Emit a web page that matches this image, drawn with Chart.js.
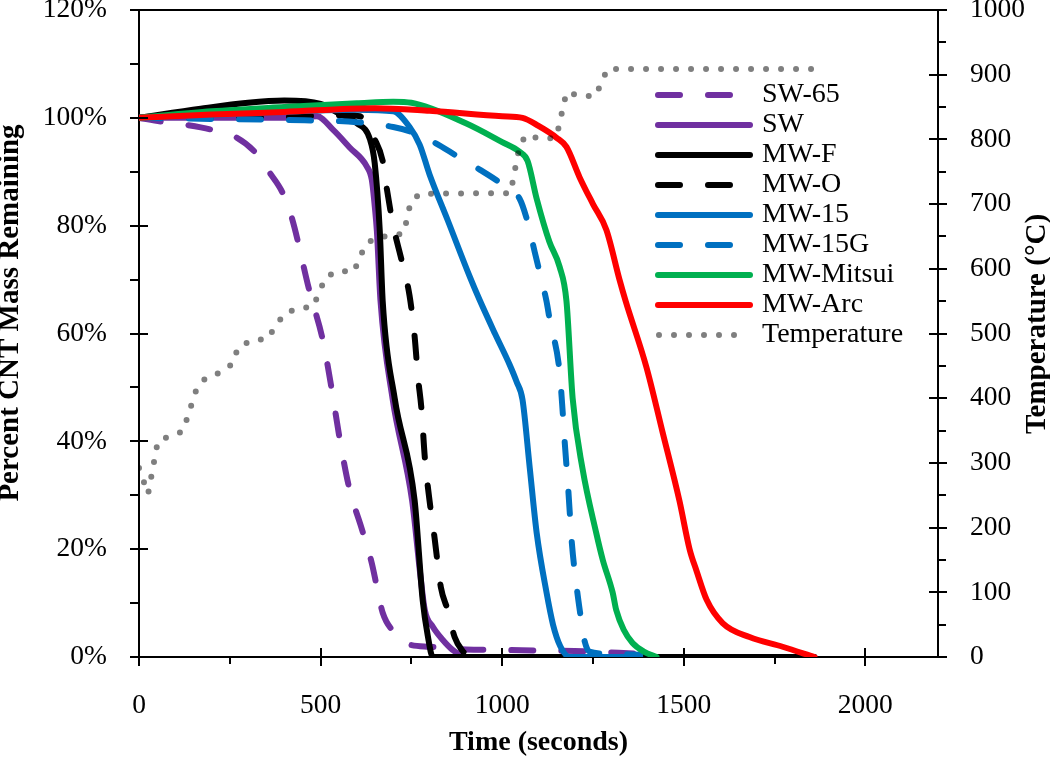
<!DOCTYPE html>
<html><head><meta charset="utf-8">
<script src="https://cdn.jsdelivr.net/npm/chart.js@4.4.1/dist/chart.umd.min.js"></script>
<style>html,body{margin:0;padding:0;background:#fff}#wrap{width:1050px;height:758px;position:relative}</style>
</head><body><div id="wrap"><canvas id="c"></canvas></div>
<script>
// ---- data (time in seconds, mass in %, temperature in °C) ----
const sw65Time = [0, 60, 130, 200, 270, 320, 360, 396, 421, 470, 506, 531, 553, 580, 610, 641, 655, 671, 704, 740, 800, 900, 1000, 1100, 1200, 1380];
const sw65Mass = [100, 99.3, 98.7, 97.8, 96.3, 93.6, 89.8, 86, 81.4, 67.7, 58.8, 49.5, 40.3, 31, 24.5, 17.4, 13, 8.2, 4.5, 2.4, 1.9, 1.4, 1.3, 1.2, 1.1, 0.6];

const swTime = [0, 200, 400, 490, 534, 580, 627, 641, 650, 655, 665, 698, 752, 775, 787, 809, 836, 864, 902, 1000, 1180];
const swMass = [100, 100, 100, 100.3, 97.8, 94.5, 91, 88.5, 83, 79, 66, 48, 29, 15, 8.7, 5.6, 3.2, 1.3, 0, 0, 0];

const mwfTime = [0, 170, 300, 400, 500, 545, 600, 636, 649, 663, 671, 704, 759, 781, 795, 809, 1000, 1200, 1400, 1600, 1860];
const mwfMass = [100, 101.7, 102.8, 103.2, 102.6, 101, 99, 96, 91.6, 79, 66, 48, 29, 10.6, 4, 0, 0, 0, 0, 0, 0];

const mwoTime = [0, 300, 572, 608, 649, 671, 682, 700, 723, 745, 759, 768, 778, 787, 800, 814, 831, 850, 869, 890, 912];
const mwoMass = [100, 100, 100.5, 100.3, 96, 92, 87, 80, 73.6, 67, 59.4, 52, 45.8, 37, 29, 22, 13, 8.7, 3.7, 1.2, 0];

const mw15Time = [0, 300, 600, 700, 745, 773, 800, 850, 911, 938, 980, 1020, 1040, 1056, 1076, 1095, 1122, 1140, 1160, 1186, 1380];
const mw15Mass = [100, 100.8, 101.5, 101.2, 98.3, 95, 89.5, 81, 70.5, 66.2, 60, 54.3, 51, 47.7, 35, 23, 12, 6, 2, 0, 0];

const mw15gTime = [0, 200, 400, 600, 700, 750, 814, 878, 938, 993, 1048, 1070, 1090, 1103, 1122, 1131, 1158, 1165, 1172, 1182, 1192, 1205, 1215, 1225, 1240, 1300, 1380];
const mw15gMass = [100, 99.8, 99.6, 99.2, 98.3, 97.4, 95.4, 92.8, 90.4, 88, 85, 80.7, 75, 71.4, 66, 62.5, 53, 47, 40, 31, 21, 13, 8, 3.5, 1, 0.6, 0.4];

const mitsuiTime = [0, 200, 400, 600, 700, 750, 900, 1000, 1048, 1070, 1095, 1130, 1158, 1177, 1194, 1221, 1259, 1277, 1304, 1314, 1335, 1359, 1390, 1425];
const mitsuiMass = [100, 101.2, 102, 102.7, 103, 102.8, 99, 95.5, 93.7, 92, 85, 77, 72.4, 66, 48, 35, 23, 18, 12, 8.7, 5, 2.6, 1, 0];

const arcTime = [0, 200, 400, 650, 800, 1000, 1056, 1100, 1150, 1177, 1213, 1250, 1287, 1323, 1340, 1397, 1442, 1488, 1516, 1535, 1563, 1607, 1681, 1772, 1860];
const arcMass = [100, 100.6, 101.1, 101.8, 101.3, 100.3, 100, 98.5, 96.3, 94.6, 89, 84, 79.2, 70, 66, 53.8, 41.6, 29, 20, 16, 10.6, 6.3, 3.7, 1.9, 0];

const tempTime = [0, 25, 52, 80, 121, 160, 187, 228, 259, 272, 311, 352, 399, 437, 479, 514, 550, 591, 624, 655, 696, 729, 748, 773, 1023, 1048, 1067, 1103, 1144, 1150, 1177, 1216, 1257, 1290, 1851];
const tempVal  = [292, 252, 334, 340, 349, 417, 433, 440, 454, 478, 490, 491, 530, 539, 541, 587, 597, 595, 638, 649, 651, 655, 703, 716, 717, 791, 807, 801, 802, 805, 873, 867, 867, 909, 909];

const seriesLabels = ['SW-65', 'SW', 'MW-F', 'MW-O', 'MW-15', 'MW-15G', 'MW-Mitsui', 'MW-Arc', 'Temperature'];
const xTickValues = [0, 500, 1000, 1500, 2000];
const yTickValues = [0, 20, 40, 60, 80, 100, 120];
const y2TickValues = [0, 100, 200, 300, 400, 500, 600, 700, 800, 900, 1000];
const xTitle = 'Time (seconds)', yTitle = 'Percent CNT Mass Remaining', y2Title = 'Temperature (°C)';

// ---- styling ----
const PURPLE = '#7030A0', BLACK = '#000000', BLUE = '#0070C0', GREEN = '#00B050', RED = '#FF0000', GREY = 'rgba(0,0,0,0.5)';
const DASH = [22, 28], DOT = [0, 15];
const FONT = '"Liberation Serif", "Times New Roman", serif';
const TICK_FONT = { family: FONT, size: 27.5, lineHeight: 1.2 };

function pts(t, v) { return t.map((x, i) => ({ x: x, y: v[i] })); }
function massSet(label, t, v, color, dash, order) {
  return { label, data: pts(t, v), borderColor: color, backgroundColor: color, borderWidth: 6,
    borderDash: dash, borderCapStyle: 'round', borderJoinStyle: 'round', pointRadius: 0,
    cubicInterpolationMode: 'monotone', yAxisID: 'y', order, fill: false };
}

const datasets = [
  massSet(seriesLabels[0], sw65Time, sw65Mass, PURPLE, DASH, 9),
  massSet(seriesLabels[1], swTime, swMass, PURPLE, [], 8),
  massSet(seriesLabels[2], mwfTime, mwfMass, BLACK, [], 7),
  massSet(seriesLabels[3], mwoTime, mwoMass, BLACK, DASH, 6),
  massSet(seriesLabels[4], mw15Time, mw15Mass, BLUE, [], 5),
  massSet(seriesLabels[5], mw15gTime, mw15gMass, BLUE, DASH, 4),
  massSet(seriesLabels[6], mitsuiTime, mitsuiMass, GREEN, [], 3),
  massSet(seriesLabels[7], arcTime, arcMass, RED, [], 2),
  { label: seriesLabels[8], data: pts(tempTime, tempVal), borderColor: GREY, backgroundColor: GREY,
    borderWidth: 6, borderDash: DOT, borderCapStyle: 'round', pointRadius: 0, tension: 0,
    yAxisID: 'y2', order: 1, fill: false }
];

const decor = {
  id: 'decor',
  afterDraw(chart) {
    const ctx = chart.ctx, a = chart.chartArea;
    const sx = chart.scales.x, sy = chart.scales.y, sy2 = chart.scales.y2;
    ctx.save();
    ctx.strokeStyle = '#000'; ctx.lineWidth = 2; ctx.lineCap = 'butt'; ctx.setLineDash([]);
    const ln = (x1, y1, x2, y2) => { ctx.beginPath(); ctx.moveTo(x1, y1); ctx.lineTo(x2, y2); ctx.stroke(); };
    ln(a.left - 1, a.top, a.right + 1, a.top);
    for (let v = 0; v <= 2200; v += 250) {
      const p = Math.round(sx.getPixelForValue(v));
      if (v % 500 === 0) ln(p, a.bottom - 9, p, a.bottom + 9); else ln(p, a.bottom, p, a.bottom + 7);
    }
    for (let v = 0; v <= 120; v += 10) {
      const p = Math.round(sy.getPixelForValue(v));
      if (v % 20 === 0) ln(a.left - 9, p, a.left + 9, p); else ln(a.left - 9, p, a.left, p);
    }
    for (let v = 0; v <= 1000; v += 50) {
      const p = Math.round(sy2.getPixelForValue(v));
      if (v % 100 === 0) ln(a.right - 9, p, a.right + 9, p); else ln(a.right, p, a.right + 8, p);
    }
    ctx.restore();

    // vertical axis titles (both read bottom to top)
    const vTitle = (text, cx, cy) => {
      ctx.save();
      ctx.fillStyle = '#000';
      ctx.font = 'bold 29px ' + FONT;
      ctx.textAlign = 'center'; ctx.textBaseline = 'middle';
      ctx.translate(cx, cy);
      ctx.rotate(-Math.PI / 2);
      ctx.fillText(text, 0, 0);
      ctx.restore();
    };
    vTitle(yTitle, 10.5, 313);
    vTitle(y2Title, 1038, 324);

    // legend
    ctx.save();
    const lx = 655, lx2 = 753, tx = 762, y0 = 95, dy = 30;
    chart.data.datasets.forEach((ds, i) => {
      const yy = y0 + i * dy;
      ctx.strokeStyle = ds.borderColor; ctx.lineWidth = 6; ctx.lineCap = 'round';
      ctx.setLineDash(ds.borderDash || []);
      ctx.lineDashOffset = 0;
      ctx.beginPath(); ctx.moveTo(ds.borderDash && ds.borderDash[0] === 0 ? lx + 4 : lx + 3, yy);
      ctx.lineTo(ds.borderDash && ds.borderDash.length ? lx2 - 15 : lx2 - 3, yy); ctx.stroke();
      ctx.setLineDash([]);
      ctx.fillStyle = '#000'; ctx.font = '28px ' + FONT; ctx.textAlign = 'left'; ctx.textBaseline = 'middle';
      ctx.fillText(ds.label, tx, yy);
    });
    ctx.restore();
  }
};

const setTicks = vals => s => { s.ticks = vals.map(v => ({ value: v })); };
const fixSize = (prop, size) => s => {
  s[prop] = size;
  s.paddingTop = 0; s.paddingBottom = 0; s.paddingLeft = 0; s.paddingRight = 0;
};

new Chart(document.getElementById('c'), {
  type: 'line',
  data: { datasets },
  options: {
    responsive: true, maintainAspectRatio: false, animation: false, devicePixelRatio: 1,
    layout: { autoPadding: false, padding: { top: 10, left: 0, right: 0, bottom: 0 } },
    plugins: { legend: { display: false }, tooltip: { enabled: false } },
    scales: {
      x: {
        type: 'linear', position: 'bottom', min: 0, max: 2200,
        afterBuildTicks: setTicks(xTickValues),
        afterFit: fixSize('height', 101),
        grid: { drawOnChartArea: false, drawTicks: false },
        border: { display: true, color: '#000', width: 2 },
        ticks: { autoSkip: false, maxRotation: 0, padding: 32, color: '#000', font: TICK_FONT,
          callback: v => String(v) },
        title: { display: true, text: xTitle, color: '#000', font: { family: FONT, size: 28, weight: 'bold', lineHeight: 1 }, padding: { top: 1, bottom: 1 } }
      },
      y: {
        type: 'linear', position: 'left', min: 0, max: 120,
        afterBuildTicks: setTicks(yTickValues),
        afterFit: fixSize('width', 139),
        grid: { drawOnChartArea: false, drawTicks: false },
        border: { display: true, color: '#000', width: 2 },
        ticks: { autoSkip: false, padding: 32, color: '#000', font: TICK_FONT, callback: v => v + '%' },
        title: { display: false, text: yTitle }
      },
      y2: {
        type: 'linear', position: 'right', min: 0, max: 1000,
        afterBuildTicks: setTicks(y2TickValues),
        afterFit: fixSize('width', 112),
        grid: { drawOnChartArea: false, drawTicks: false },
        border: { display: true, color: '#000', width: 2 },
        ticks: { autoSkip: false, padding: 32, color: '#000', font: TICK_FONT, callback: v => String(v) },
        title: { display: false, text: y2Title }
      }
    }
  },
  plugins: [decor]
});
</script></body></html>
